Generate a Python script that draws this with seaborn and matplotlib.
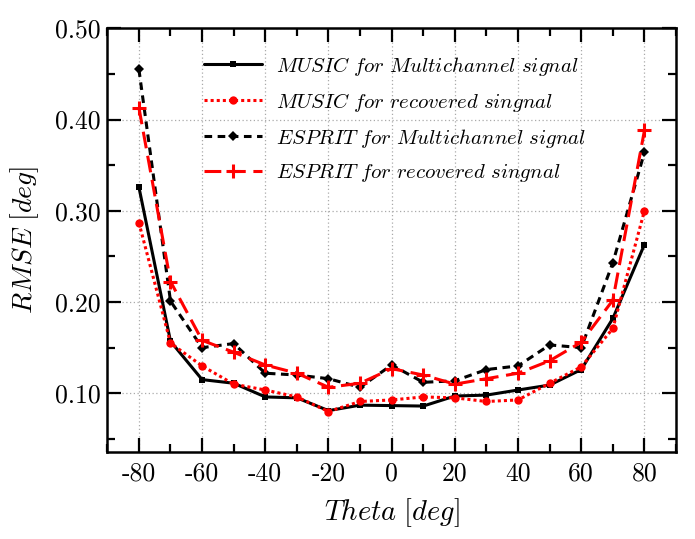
import numpy as np
import pandas as pd
import matplotlib
matplotlib.use("Agg")
import matplotlib.pyplot as plt
import seaborn as sns
from matplotlib.ticker import MultipleLocator, FixedLocator, FuncFormatter

theta = [-80, -70, -60, -50, -40, -30, -20, -10, 0, 10, 20, 30, 40, 50, 60, 70, 80]
music_multi = [0.326, 0.157, 0.115, 0.111, 0.096, 0.095, 0.081, 0.087, 0.0865, 0.086,
               0.097, 0.098, 0.1036, 0.109, 0.126, 0.182, 0.263]
music_rec = [0.287, 0.155, 0.130, 0.110, 0.1036, 0.096, 0.080, 0.091, 0.0927, 0.096,
             0.095, 0.091, 0.0927, 0.111, 0.129, 0.171, 0.300]
esprit_multi = [0.455, 0.201, 0.150, 0.1545, 0.122, 0.120, 0.116, 0.1066, 0.131, 0.112,
                0.1137, 0.126, 0.130, 0.153, 0.150, 0.243, 0.364]
esprit_rec = [0.413, 0.2225, 0.158, 0.145, 0.131, 0.122, 0.1066, 0.111, 0.127, 0.120,
              0.110, 0.116, 0.122, 0.1356, 0.156, 0.202, 0.388]
labels = [r"$\mathit{MUSIC\ for\ Multichannel\ signal}$",
          r"$\mathit{MUSIC\ for\ recovered\ singnal}$",
          r"$\mathit{ESPRIT\ for\ Multichannel\ signal}$",
          r"$\mathit{ESPRIT\ for\ recovered\ singnal}$"]
x_ticks = [-80, -60, -40, -20, 0, 20, 40, 60, 80]
y_ticks = [0.10, 0.20, 0.30, 0.40, 0.50]

sns.set_style("ticks")
plt.rcParams["mathtext.fontset"] = "cm"
plt.rcParams["font.family"] = ["DejaVu Serif"]
plt.rcParams["text.color"] = "black"
plt.rcParams["axes.labelcolor"] = "black"
plt.rcParams["xtick.color"] = "black"
plt.rcParams["ytick.color"] = "black"
plt.rcParams["axes.edgecolor"] = "black"

fig = plt.figure(figsize=(6.95, 5.39), dpi=100)
ax = fig.add_axes([0.1544, 0.162, 0.8183, 0.7855])

series = [music_multi, music_rec, esprit_multi, esprit_rec]
styles = [
    dict(color="black", linestyle="-", marker="s", markersize=5,
         markeredgewidth=0, markeredgecolor="black"),
    dict(color="#ff0000", linestyle=(0, (1, 1)), marker="o", markersize=6,
         markeredgewidth=0, markeredgecolor="#ff0000"),
    dict(color="black", linestyle=(0, (2.5, 1.8)), marker="D", markersize=5,
         markeredgewidth=0, markeredgecolor="black"),
    dict(color="#ff0000", linestyle=(0, (5.5, 2.5)), marker="+", markersize=10,
         markeredgewidth=2.2, markeredgecolor="#ff0000"),
]
for vals, lab, st in zip(series, labels, styles):
    df = pd.DataFrame({"theta": theta, "rmse": vals})
    sns.lineplot(data=df, x="theta", y="rmse", ax=ax, label=lab, linewidth=2.2, **st)

ax.set_xlim(-90, 90)
ax.set_ylim(0.036, 0.50)
ax.xaxis.set_major_locator(FixedLocator(x_ticks))
ax.xaxis.set_minor_locator(MultipleLocator(10))
ax.yaxis.set_major_locator(FixedLocator(y_ticks))
ax.yaxis.set_minor_locator(MultipleLocator(0.05))
ax.xaxis.set_major_formatter(FuncFormatter(lambda v, p: "%d" % v))
ax.yaxis.set_major_formatter(FuncFormatter(lambda v, p: "%.2f" % v))

ax.tick_params(which="both", direction="in", top=True, right=True, width=1.6,
               labelsize=18.5)
ax.tick_params(axis="x", which="major", pad=7)
ax.tick_params(axis="y", which="major", pad=5)
ax.tick_params(which="major", length=10)
ax.tick_params(which="minor", length=6)
for lbl in ax.get_xticklabels() + ax.get_yticklabels():
    lbl.set_fontfamily("cmr10")
for s in ax.spines.values():
    s.set_linewidth(1.8)
ax.grid(True, which="major", linestyle=(0, (1, 2)), color="#aaaaaa", linewidth=0.9)

ax.set_xlabel(r"$\mathit{Theta}\ [\mathit{deg}]$", fontsize=20.5, labelpad=8)
ax.set_ylabel(r"$\mathit{RMSE}\ [\mathit{deg}]$", fontsize=20, labelpad=10)

leg = ax.legend(loc="upper left", bbox_to_anchor=(0.137, 0.982), frameon=False,
                fontsize=15, handlelength=2.8, labelspacing=0.62, handletextpad=0.65)

fig.savefig("out.png", dpi=100)
